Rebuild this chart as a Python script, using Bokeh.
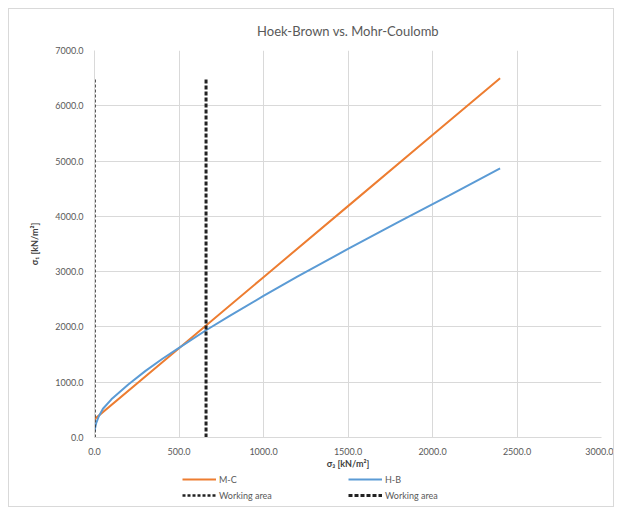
from bokeh.plotting import figure
from bokeh.layouts import column
from bokeh.models import Legend, LegendItem, FixedTicker, NumeralTickFormatter, Range1d
from bokeh.embed import file_html
from bokeh.resources import INLINE

# Data
mc_s3 = [0, 500, 1000, 1500, 2000, 2400]
mc_s1 = [330, 1615, 2900, 4185, 5470, 6500]

hb_s3 = [0, 10, 25, 50, 100, 200, 300, 400, 500, 660, 800, 1000, 1200, 1500, 1800, 2100, 2400]
hb_s1 = [120, 260, 380, 520, 690, 960, 1200, 1420, 1620, 1940, 2200, 2560, 2910, 3410, 3900, 4380, 4870]

wa1_x = [0, 0]
wa1_y = [0, 6500]
wa2_x = [660, 660]
wa2_y = [0, 6500]

x_ticks = [0, 500, 1000, 1500, 2000, 2500, 3000]
y_ticks = [0, 1000, 2000, 3000, 4000, 5000, 6000, 7000]

FONT = "Lato"
GREY = "#595959"

MC_STYLE = dict(line_color="#ED7D31", line_width=2)
HB_STYLE = dict(line_color="#5B9BD5", line_width=2)
W1_STYLE = dict(line_color="#222222", line_width=2.5, line_dash="3 2")
W2_STYLE = dict(line_color="#222222", line_width=3, line_dash="4 2")

p = figure(width=604, height=462, output_backend="svg", toolbar_location=None,
           x_range=(0, 3000), y_range=(0, 7000),
           min_border_left=85, min_border_right=12, min_border_top=40, min_border_bottom=27,
           title="Hoek-Brown vs. Mohr-Coulomb")
p.outline_line_color = None

p.title.align = "center"
p.title.text_font = FONT
p.title.text_font_size = "13px"
p.title.text_font_style = "normal"
p.title.text_color = GREY
p.title.standoff = 23

for ax in (p.xaxis[0], p.yaxis[0]):
    ax.major_label_text_font = FONT
    ax.major_label_text_font_size = "9px"
    ax.major_label_text_color = GREY
    ax.axis_label_text_font = FONT
    ax.axis_label_text_font_size = "9px"
    ax.axis_label_text_font_style = "bold"
    ax.axis_label_text_color = "#404040"
    ax.major_tick_line_color = None
    ax.minor_tick_line_color = None
    ax.axis_line_color = "#d9d9d9"
    ax.formatter = NumeralTickFormatter(format="0.0")

p.xaxis[0].ticker = FixedTicker(ticks=x_ticks)
p.yaxis[0].ticker = FixedTicker(ticks=y_ticks)
p.xaxis[0].axis_label = "σ₃ [kN/m²]"
p.yaxis[0].axis_label = "σ₁ [kN/m²]"
p.xaxis[0].major_label_standoff = 4
p.xaxis[0].axis_label_standoff = 0
p.yaxis[0].axis_label_standoff = 12

p.xgrid.ticker = FixedTicker(ticks=x_ticks)
p.ygrid.ticker = FixedTicker(ticks=y_ticks)
p.xgrid.grid_line_color = "#d9d9d9"
p.ygrid.grid_line_color = "#d9d9d9"

p.line(mc_s3, mc_s1, **MC_STYLE)
p.line(hb_s3, hb_s1, **HB_STYLE)
p.line(wa1_x, wa1_y, **W1_STYLE)
p.line(wa2_x, wa2_y, **W2_STYLE)

# Legend strip below (its renderers lie outside its ranges, only the legend shows)
lf = figure(width=604, height=35, output_backend="svg", toolbar_location=None,
            x_axis_type=None, y_axis_type=None,
            x_range=Range1d(-2, -1), y_range=Range1d(-2, -1),
            min_border=0)
lf.outline_line_color = None
lf.grid.visible = False
l_mc = lf.line(mc_s3, mc_s1, **MC_STYLE)
l_hb = lf.line(hb_s3, hb_s1, **HB_STYLE)
l_w1 = lf.line(wa1_x, wa1_y, **W1_STYLE)
l_w2 = lf.line(wa2_x, wa2_y, **W2_STYLE)

legend = Legend(items=[
    LegendItem(label="M-C", renderers=[l_mc]),
    LegendItem(label="Working area", renderers=[l_w1]),
    LegendItem(label="H-B", renderers=[l_hb]),
    LegendItem(label="Working area", renderers=[l_w2]),
], ncols=2, location=(88, 5))
legend.label_text_font = FONT
legend.label_text_font_size = "9px"
legend.label_text_color = GREY
legend.label_width = 125
legend.label_height = 12
legend.glyph_width = 34
legend.glyph_height = 12
legend.label_standoff = 3
legend.spacing = 4
legend.padding = 2
legend.margin = 0
legend.border_line_color = None
legend.background_fill_alpha = 0
lf.add_layout(legend, "center")

layout = column(p, lf, spacing=0)
layout.margin = (8, 0, 0, 8)
layout.styles = {"border": "1px solid #d9d9d9"}

open("out.html", "w").write(file_html(layout, INLINE))
